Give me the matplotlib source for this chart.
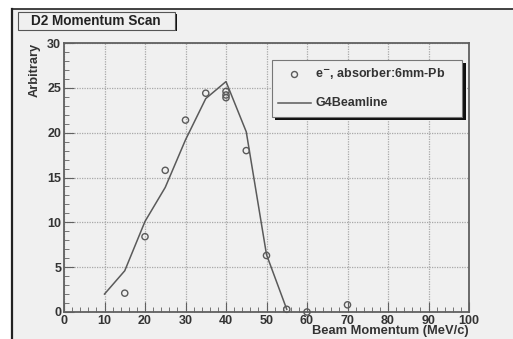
import matplotlib
matplotlib.use("Agg")
import matplotlib.pyplot as plt
from matplotlib.patches import Rectangle
from matplotlib.lines import Line2D

# measured points (e-, absorber 6mm Pb)
data_x = [15, 20, 25, 30, 35, 40, 40, 40, 45, 50, 55, 60, 70]
data_y = [2.1, 8.4, 15.8, 21.4, 24.4, 24.6, 24.2, 23.9, 18.0, 6.3, 0.3, 0.0, 0.8]

# G4Beamline simulation
sim_x = [10, 15, 20, 25, 30, 35, 40, 45, 50, 55]
sim_y = [2.0, 4.6, 10.1, 13.9, 19.2, 23.8, 25.7, 20.1, 6.4, 0.3]

W, H = 513, 339
BG = "#f0f0f0"
GREY = "#5a5a5a"
TXT = "#333333"
FONT = "Liberation Sans"

fig = plt.figure(figsize=(W / 100, H / 100), dpi=100)
fig.patch.set_facecolor("white")


def px(x, y, w, h):
    # pixel box (top-left origin) -> figure fraction
    return [x / W, 1 - (y + h) / H, w / W, h / H]


# grey canvas with black border on left/top
fig.patches.append(Rectangle((12 / W, 0), 1 - 12 / W, 1 - 9 / H,
                             transform=fig.transFigure, facecolor=BG,
                             edgecolor="none", zorder=-5))
fig.lines.append(Line2D([12 / W, 12 / W], [0, 1 - 9 / H], transform=fig.transFigure,
                        color="#222222", lw=1.6, zorder=-4))
fig.lines.append(Line2D([12 / W, 1], [1 - 9 / H, 1 - 9 / H], transform=fig.transFigure,
                        color="#222222", lw=1.2, zorder=-4))

ax = fig.add_axes(px(64, 43, 405, 269))
ax.set_facecolor(BG)

ax.plot(sim_x, sim_y, color=GREY, lw=1.1, zorder=3, clip_on=False)
ax.scatter(data_x, data_y, s=20, facecolors="none", edgecolors=GREY,
           linewidths=1.0, zorder=4, clip_on=False)

ax.set_xlim(0, 100)
ax.set_ylim(0, 30)
ax.set_xticks(range(0, 101, 10))
ax.set_xticks(range(0, 101, 2), minor=True)
ax.set_yticks(range(0, 31, 5))
ax.set_yticks(range(0, 31, 1), minor=True)
ax.grid(True, which="major", color="#a8a8a8", linestyle=(0, (1, 1)), lw=0.9)
ax.set_axisbelow(True)

for side in ax.spines.values():
    side.set_color("#606060")
    side.set_linewidth(1.3)

ax.tick_params(which="both", direction="in", top=False, right=False,
               color="#606060", labelsize=9, pad=2)
ax.tick_params(which="major", length=7)
ax.tick_params(which="minor", length=3.5)
for lab in ax.get_xticklabels() + ax.get_yticklabels():
    lab.set_fontfamily(FONT)
    lab.set_fontweight("bold")
    lab.set_color(TXT)

ax.set_xlabel("Beam Momentum (MeV/c)", fontfamily=FONT, fontweight="bold",
              fontsize=9.3, color=TXT, loc="right", labelpad=-1)
ax.set_ylabel("Arbitrary", fontfamily=FONT, fontweight="bold",
              fontsize=9.3, color=TXT, loc="top", labelpad=5)

# title box with shadow
fig.patches.append(Rectangle((20 / W, 1 - 31 / H), 157 / W, 17 / H,
                             transform=fig.transFigure, facecolor="#111111",
                             edgecolor="none", zorder=5))
fig.patches.append(Rectangle((18 / W, 1 - 29.5 / H), 157 / W, 17 / H,
                             transform=fig.transFigure, facecolor=BG,
                             edgecolor="#555555", lw=0.8, zorder=6))
fig.text(96 / W, 1 - 21 / H, "D2 Momentum Scan", fontfamily=FONT,
         fontweight="bold", fontsize=9.8, color="#222222",
         ha="center", va="center", zorder=7)

# legend box with shadow
fig.patches.append(Rectangle((275 / W, 1 - 120 / H), 191 / W, 57 / H,
                             transform=fig.transFigure, facecolor="#111111",
                             edgecolor="none", zorder=5))
fig.patches.append(Rectangle((271.5 / W, 1 - 117 / H), 190.5 / W, 57 / H,
                             transform=fig.transFigure, facecolor=BG,
                             edgecolor="#777777", lw=0.8, zorder=6))
fig.lines.append(Line2D([294 / W], [1 - 73.5 / H], transform=fig.transFigure,
                        marker="o", markersize=4.3, markerfacecolor="none",
                        markeredgecolor=GREY, markeredgewidth=1.0, zorder=7))
fig.lines.append(Line2D([278 / W, 311 / W], [1 - 103 / H, 1 - 103 / H],
                        transform=fig.transFigure, color=GREY, lw=1.1, zorder=7))
fig.text(315 / W, 1 - 73.5 / H, "e$^{\\mathbf{-}}$, absorber:6mm-Pb", fontfamily=FONT,
         fontweight="bold", fontsize=9, color=TXT, ha="left", va="center",
         zorder=7)
fig.text(315 / W, 1 - 103 / H, "G4Beamline", fontfamily=FONT,
         fontweight="bold", fontsize=9, color=TXT, ha="left", va="center",
         zorder=7)

fig.savefig("out.png", dpi=100)
